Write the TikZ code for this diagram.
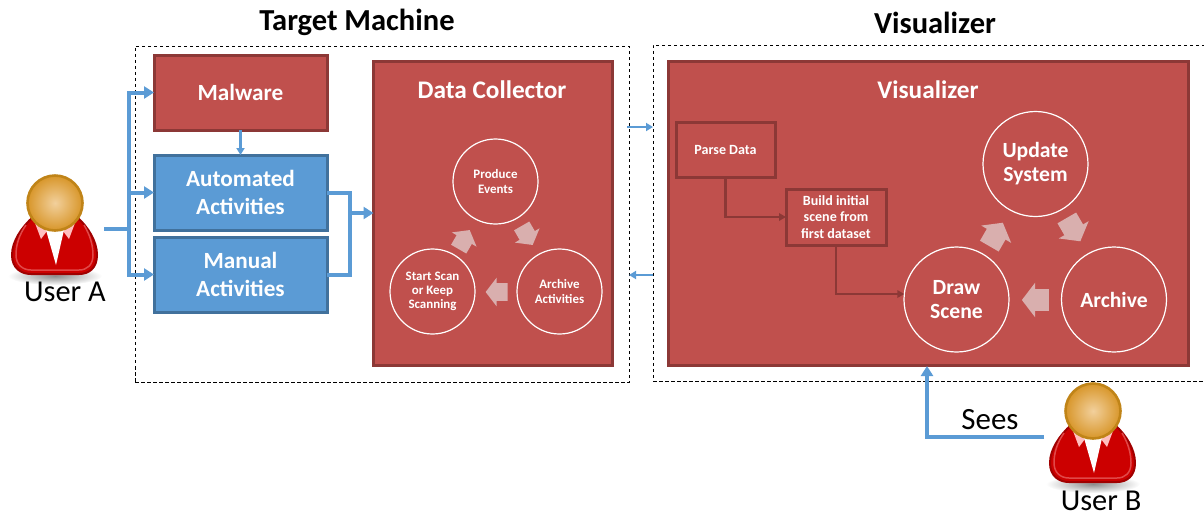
\documentclass[tikz,border=0pt]{standalone}
\usepackage{fontspec}
\setmainfont{Carlito}
\usetikzlibrary{arrows.meta,shapes.arrows}
\definecolor{boxred}{HTML}{C0504D}
\definecolor{boxreddark}{HTML}{8C3836}
\definecolor{boxblue}{HTML}{5B9BD5}
\definecolor{boxbluedark}{HTML}{41719C}
\definecolor{cyclepink}{HTML}{D9AFAE}
\definecolor{headlight}{HTML}{F2D09C}
\definecolor{headdark}{HTML}{D8962A}
\definecolor{headedge}{HTML}{C08418}
\definecolor{bodyred}{HTML}{CC0000}
\definecolor{bodyedge}{HTML}{A00000}
\definecolor{bodyline}{HTML}{E04848}
\def\px{0.025cm}
\newcommand{\txtsize}[2]{\fontsize{#1}{#2}\selectfont}
\tikzset{
  redbox/.style={draw=boxreddark, fill=boxred, line width=3*\px, outer sep=0pt, inner sep=0pt, text=white, align=center, font=\bfseries},
  bluebox/.style={redbox, draw=boxbluedark, fill=boxblue},
  dashbox/.style={draw=black, line width=1*\px, dash pattern=on 3.5*\px off 2.5*\px, outer sep=0pt},
  ring/.style={circle, draw=white, line width=1.2*\px, outer sep=0pt, inner sep=0pt, text=white, align=center, font=\bfseries},
  bluearrow/.style={draw=boxblue, line width=4*\px, -{Triangle[length=10*\px, width=12*\px]}},
  blueline/.style={draw=boxblue, line width=4*\px},
  thinarrow/.style={draw=boxblue, line width=2.4*\px, -{Triangle[length=7*\px, width=8*\px]}},
  darkarrow/.style={draw=boxreddark, line width=2.6*\px, -{Triangle[length=7*\px, width=7.5*\px]}},
  cyclearrow/.style={single arrow, fill=cyclepink, inner xsep=0pt, outer sep=0pt, single arrow tip angle=105},
  smallcycle/.style={cyclearrow, inner ysep=8.5*\px, minimum height=22*\px, single arrow head extend=5.5*\px},
  bigcycle/.style={cyclearrow, inner ysep=10.5*\px, minimum height=27*\px, single arrow head extend=6.5*\px},
}
\newcommand{\userfigure}[2]{
  \begin{scope}[shift={(#1,#2)}]
    \shade[inner color=black!45, outer color=white] (0,73) ellipse (47 and 9);
    \draw[fill=bodyred, draw=bodyedge, line width=2*\px]
      (-22,14) .. controls (-33,24) and (-43,38) .. (-43,52)
      .. controls (-43,65) and (-34,71) .. (-24,71) -- (24,71)
      .. controls (34,71) and (42,65) .. (42,52)
      .. controls (42,38) and (33,24) .. (22,14) -- cycle;
    \draw[draw=bodyline, line width=1.5*\px]
      (-29,22) .. controls (-36,32) and (-39,42) .. (-39,52)
      .. controls (-39,62) and (-32,67) .. (-24,67) -- (24,67)
      .. controls (32,67) and (38,62) .. (38,52)
      .. controls (38,42) and (35,32) .. (29,22);
    \fill[red!25!white] (-20,20) -- (-14,36) -- (-8,28) -- cycle;
    \fill[red!25!white] (20,20) -- (14,36) -- (8,28) -- cycle;
    \fill[white] (-9,27) -- (9,27) -- (1,62) -- cycle;
    \draw[draw=headedge, line width=2.6*\px, inner color=headlight, outer color=headdark] (0,0) circle (27.5);
  \end{scope}
}
\begin{document}
\begin{tikzpicture}[x=\px,y=-\px]
  \useasboundingbox (0,0) rectangle (1204,516);

  % outer boxes and titles
  \node[dashbox, minimum width=494*\px, minimum height=336*\px] (target) at (382,214) {};
  \node[dashbox, minimum width=552*\px, minimum height=336*\px] (visual) at (929,213) {};
  \node[font=\bfseries\txtsize{21.7pt}{26pt}] (targettitle) at (357,22.5) {Target Machine};
  \node[font=\bfseries\txtsize{21.7pt}{26pt}] (visualtitle) at (935,22.5) {Visualizer};

  % target machine
  \node[redbox, minimum width=173*\px, minimum height=75*\px, font=\bfseries\txtsize{16.5pt}{20pt}] (malware) at (240.5,92.5) {Malware};
  \node[bluebox, minimum width=173*\px, minimum height=75*\px, font=\bfseries\txtsize{16.5pt}{20pt}] (automated) at (240.5,192.5) {Automated\\Activities};
  \node[bluebox, minimum width=173*\px, minimum height=75*\px, font=\bfseries\txtsize{16.5pt}{20pt}] (manual) at (240.5,274.5) {Manual\\Activities};
  \node[redbox, minimum width=239*\px, minimum height=304*\px] (collector) at (493,213) {};
  \node[text=white, font=\bfseries\txtsize{18pt}{22pt}] (collectortitle) at (492,89.5) {Data Collector};
  \node[ring, minimum size=85*\px, font=\bfseries\txtsize{9.2pt}{10pt}] (produce) at (495.5,181.5) {Produce\\Events};
  \node[ring, minimum size=85*\px, font=\bfseries\txtsize{9.2pt}{10pt}] (archivea) at (559.5,291.5) {Archive\\Activities};
  \node[ring, minimum size=85*\px, font=\bfseries\txtsize{9.2pt}{10pt}] (startscan) at (432.5,291.5) {Start Scan\\or Keep\\Scanning};
  \node[smallcycle, rotate=-60] (cyclea) at (525.5,232.5) {};
  \node[smallcycle, rotate=180] (cycleb) at (500,292) {};
  \node[smallcycle, rotate=60] (cyclec) at (462.5,242.5) {};

  % visualizer
  \node[redbox, minimum width=520*\px, minimum height=304*\px] (visbox) at (928,213) {};
  \node[text=white, font=\bfseries\txtsize{18pt}{22pt}] (vistitle) at (928,89.5) {Visualizer};
  \node[redbox, minimum width=99*\px, minimum height=55*\px, font=\bfseries\txtsize{10pt}{12pt}] (parse) at (725.5,149.5) {Parse Data};
  \node[redbox, minimum width=100*\px, minimum height=56*\px, font=\bfseries\txtsize{10pt}{12pt}] (build) at (836,217) {Build initial\\scene from\\first dataset};
  \node[ring, minimum size=105*\px, font=\bfseries\txtsize{15.4pt}{17pt}] (drawscene) at (956.5,299.5) {Draw\\Scene};
  \node[ring, minimum size=105*\px, font=\bfseries\txtsize{15.4pt}{17pt}] (update) at (1035.5,164) {Update\\System};
  \node[ring, minimum size=105*\px, font=\bfseries\txtsize{15.4pt}{17pt}] (archiveb) at (1114,299.5) {Archive};
  \node[bigcycle, rotate=-60] (cycled) at (1071.5,226) {};
  \node[bigcycle, rotate=180] (cyclee) at (1039.5,300) {};
  \node[bigcycle, rotate=60] (cyclef) at (994,238) {};

  % users
  \userfigure{55}{203}
  \userfigure{1093}{411}
  \node[font=\txtsize{21.6pt}{26pt}] (usera) at (65,292) {User A};
  \node[font=\txtsize{21.6pt}{26pt}] (userb) at (1101,501) {User B};
  \node[font=\txtsize{22pt}{26pt}] (sees) at (990,420) {Sees};

  % connectors
  \coordinate (afrom) at (104,229);
  \coordinate (atrunk) at (129,229);
  \coordinate (ajoin) at (350,213);
  \coordinate (bfrom) at (1044,437);
  \coordinate (btip) at (927,366);
  \coordinate (sendfrom) at (627,127);
  \coordinate (sendto) at (653,127);
  \coordinate (backfrom) at (653,275);
  \coordinate (backto) at (629,275);
  \draw[blueline] (afrom) -- (atrunk);
  \draw[bluearrow] (atrunk) |- (malware.west);
  \draw[bluearrow] (atrunk) |- (automated.west);
  \draw[bluearrow] (atrunk) |- (manual.west);
  \draw[thinarrow] (malware.south) -- (automated.north);
  \draw[blueline] (automated.east) -| (ajoin) |- (manual.east);
  \draw[bluearrow] (ajoin) -- (collector.west);
  \draw[thinarrow] (sendfrom) -- (sendto);
  \draw[thinarrow] (backfrom) -- (backto);
  \draw[darkarrow] (parse.south) |- (build.west);
  \draw[darkarrow] (build.south) |- (drawscene.174);
  \draw[bluearrow] (bfrom) -| (btip);
\end{tikzpicture}
\end{document}
